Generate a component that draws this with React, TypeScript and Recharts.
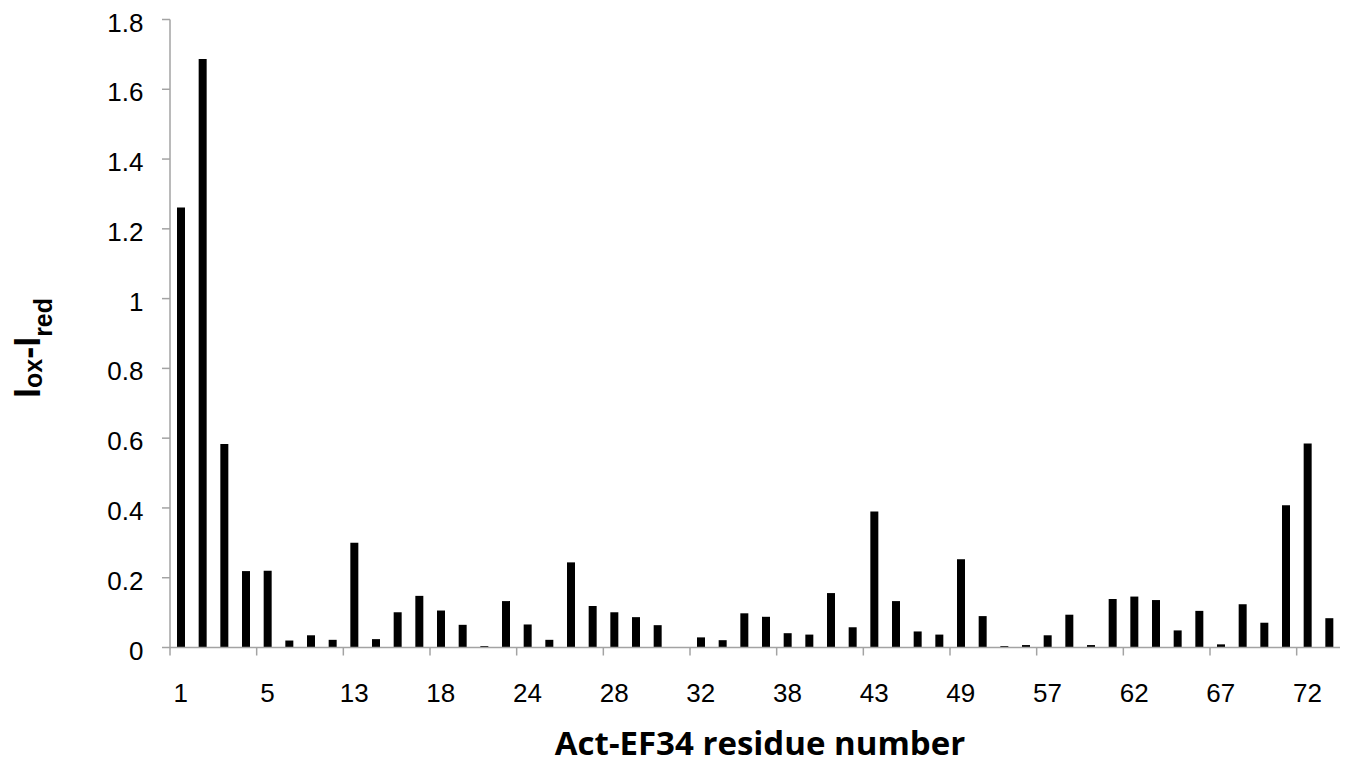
import React from 'react';
import { BarChart, Bar, XAxis, YAxis } from 'recharts';

const residues: string[] = [
  '1', '2', '3', '4', '5', '7', '9', '11', '13', '14', '15', '17', '18', '19',
  '21', '22', '24', '25', '26', '27', '28', '29', '30', '31', '32', '33', '35',
  '36', '38', '40', '41', '42', '43', '44', '45', '47', '49', '50', '53', '55',
  '57', '58', '59', '61', '62', '63', '64', '66', '67', '68', '69', '71', '72', '73',
];

const diffValues: number[] = [
  1.261, 1.687, 0.583, 0.219, 0.22, 0.02, 0.035, 0.022, 0.3, 0.024, 0.101, 0.148,
  0.106, 0.065, 0.004, 0.133, 0.066, 0.022, 0.244, 0.119, 0.101, 0.087, 0.064, 0,
  0.029, 0.021, 0.098, 0.088, 0.041, 0.037, 0.156, 0.058, 0.39, 0.133, 0.046, 0.037,
  0.253, 0.09, 0.004, 0.007, 0.035, 0.094, 0.007, 0.139, 0.146, 0.136, 0.049, 0.105,
  0.009, 0.124, 0.071, 0.408, 0.585, 0.084,
];

const yTicks: number[] = [0, 0.2, 0.4, 0.6, 0.8, 1, 1.2, 1.4, 1.6, 1.8];
const yTickLabels: string[] = ['0', '0.2', '0.4', '0.6', '0.8', '1', '1.2', '1.4', '1.6', '1.8'];

const data = residues.map((r, i) => ({ residue: r, value: diffValues[i] }));

const AXIS_GRAY = '#A3A3A3';
const FONT = '"Liberation Sans", Arial, sans-serif';
const X_TICK_SIZE = 8;
const X_TICK_MARGIN = 28;

const XTick = (props: any) => {
  const { x, y, payload } = props;
  const axisY = y - X_TICK_SIZE - X_TICK_MARGIN;
  const lineX = x - (payload.offset || 0);
  return (
    <g>
      <line x1={lineX} x2={lineX} y1={axisY} y2={axisY + X_TICK_SIZE} stroke={AXIS_GRAY} strokeWidth={1.5} />
      <text x={x} y={y} dy="0.71em" textAnchor="middle" fontFamily={FONT} fontSize={26} fill="#000">
        {payload.value}
      </text>
    </g>
  );
};

const YTick = (props: any) => {
  const { x, y, payload } = props;
  const idx = yTicks.findIndex((t) => Math.abs(t - payload.value) < 1e-9);
  const label = idx >= 0 ? yTickLabels[idx] : String(payload.value);
  return (
    <text x={x} y={y} dy={12} textAnchor="end" fontFamily={FONT} fontSize={26} fill="#000">
      {label}
    </text>
  );
};

const YTitle = (props: any) => {
  const vb = props.viewBox || { x: 0, y: 0, width: 0, height: 0 };
  const cx = vb.x + 39.5;
  const cy = vb.y + vb.height / 2 + 14.5;
  return (
    <text
      transform={`translate(${cx}, ${cy}) rotate(-90)`}
      textAnchor="middle"
      fontFamily={FONT}
      fontWeight="bold"
      fill="#000"
    >
      <tspan fontSize={36}>I</tspan>
      <tspan fontSize={25} dy={2}>ox</tspan>
      <tspan fontSize={36} dy={-2}>-I</tspan>
      <tspan fontSize={25} dy={12}>red</tspan>
    </text>
  );
};

export default function App() {
  return (
    <div style={{ position: 'absolute', left: 0, top: 0, background: '#fff' }}>
      <BarChart
        width={1356}
        height={780}
        data={data}
        margin={{ top: 19.5, right: 16, bottom: 25, left: 0 }}
        barSize={8}
      >
        <XAxis
          dataKey="residue"
          type="category"
          interval={3}
          height={107.5}
          tickSize={X_TICK_SIZE}
          tickMargin={X_TICK_MARGIN}
          tickLine={false}
          axisLine={{ stroke: AXIS_GRAY, strokeWidth: 1.5 }}
          tick={<XTick />}
          label={{
            value: 'Act-EF34 residue number',
            position: 'insideBottom',
            offset: 0,
            dx: 5,
            style: { fontFamily: '"Open Sans", sans-serif', fontWeight: 'bold', fontSize: 33, fill: '#000' },
          }}
        />
        <YAxis
          type="number"
          domain={[0, 1.8]}
          ticks={yTicks}
          interval={0}
          width={170}
          tickSize={8}
          tickMargin={18.5}
          tickLine={{ stroke: AXIS_GRAY, strokeWidth: 1.5 }}
          axisLine={{ stroke: AXIS_GRAY, strokeWidth: 1.5 }}
          tick={<YTick />}
          label={{ content: <YTitle /> }}
        />
        <Bar dataKey="value" fill="#000" isAnimationActive={false} />
      </BarChart>
    </div>
  );
}
